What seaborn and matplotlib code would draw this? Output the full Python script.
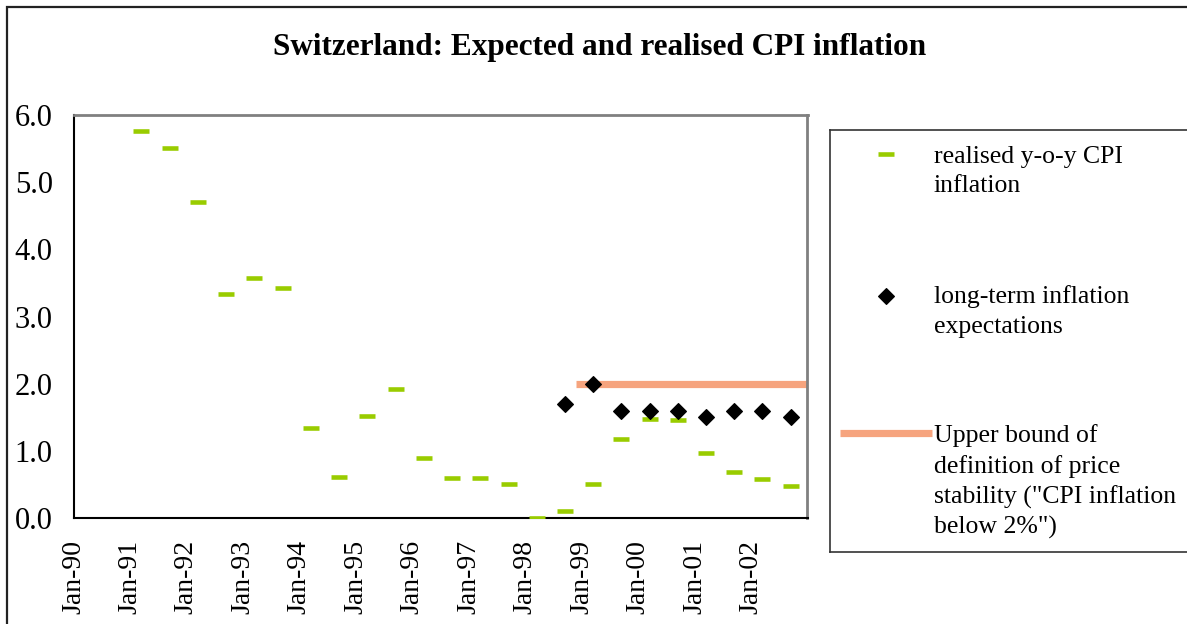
import numpy as np
import pandas as pd
import seaborn as sns
import matplotlib.pyplot as plt
from matplotlib.patches import Rectangle

# realised y-o-y CPI inflation (two readings a year)
cpi_dates = ['1991-03-15', '1991-09-15', '1992-03-15', '1992-09-15',
             '1993-03-15', '1993-09-15', '1994-03-15', '1994-09-15',
             '1995-03-15', '1995-09-15', '1996-03-15', '1996-09-15',
             '1997-03-15', '1997-09-15', '1998-03-15', '1998-09-15',
             '1999-03-15', '1999-09-15', '2000-03-15', '2000-09-15',
             '2001-03-15', '2001-09-15', '2002-03-15', '2002-09-15']
cpi_values = [5.76, 5.51, 4.70, 3.34, 3.57, 3.43, 1.34, 0.61, 1.52, 1.92,
              0.90, 0.60, 0.60, 0.50, 0.00, 0.10, 0.50, 1.18, 1.47, 1.46,
              0.97, 0.68, 0.58, 0.48]

# long-term inflation expectations
exp_dates = ['1998-09-15', '1999-03-15', '1999-09-15', '2000-03-15',
             '2000-09-15', '2001-03-15', '2001-09-15', '2002-03-15',
             '2002-09-15']
exp_values = [1.70, 2.00, 1.60, 1.60, 1.60, 1.50, 1.60, 1.60, 1.50]

# upper bound of the price stability definition
bound_dates = ['1998-11-25', '2003-01-01']
bound_values = [2.0, 2.0]

tick_years = list(range(1990, 2004))
tick_labels = ['Jan-90', 'Jan-91', 'Jan-92', 'Jan-93', 'Jan-94', 'Jan-95',
               'Jan-96', 'Jan-97', 'Jan-98', 'Jan-99', 'Jan-00', 'Jan-01',
               'Jan-02', '']
y_ticks = [0, 1, 2, 3, 4, 5, 6]

legend_labels = ['realised y-o-y CPI\ninflation',
                 'long-term inflation\nexpectations',
                 'Upper bound of\ndefinition of price\nstability ("CPI inflation\nbelow 2%")']

green = '#99CC00'
orange = '#F6A47E'

sns.set_style('white')
plt.rcParams['font.family'] = ['Liberation Serif', 'DejaVu Serif']
plt.rcParams['text.color'] = 'black'
plt.rcParams['xtick.color'] = 'black'
plt.rcParams['ytick.color'] = 'black'
plt.rcParams['axes.labelcolor'] = 'black'

cpi = pd.DataFrame({'date': pd.to_datetime(cpi_dates), 'value': cpi_values})
exp = pd.DataFrame({'date': pd.to_datetime(exp_dates), 'value': exp_values})
bound = pd.DataFrame({'date': pd.to_datetime(bound_dates), 'value': bound_values})

fig = plt.figure(figsize=(11.87, 6.24), dpi=100)
ax = fig.add_axes([73.5 / 1187, 106 / 624, 734 / 1187, 403 / 624])

dash_style = dict(marker='_', markersize=11.5, markeredgewidth=3.3,
                  markeredgecolor=green, color=green, linestyle='')
diamond_style = dict(marker='D', markersize=8.3, markeredgewidth=0.8,
                     markeredgecolor='black', color='black', linestyle='')
bound_style = dict(color=orange, linewidth=5.2, solid_capstyle='butt')

sns.lineplot(data=bound, x='date', y='value', ax=ax, zorder=2, **bound_style)
sns.lineplot(data=cpi, x='date', y='value', ax=ax, zorder=3, **dash_style)
sns.lineplot(data=exp, x='date', y='value', ax=ax, zorder=4, **diamond_style)

ax.set_xlim(pd.Timestamp('1990-01-01'), pd.Timestamp('2003-01-01'))
ax.set_ylim(0, 6)
ax.set_xticks([pd.Timestamp(f'{y}-01-01') for y in tick_years])
ax.set_xticklabels(tick_labels, rotation=90, fontsize=20)
ax.set_yticks(y_ticks)
ax.set_yticklabels([f'{v:.1f}' for v in y_ticks], fontsize=22)
ax.set_xlabel('')
ax.set_ylabel('')
ax.tick_params(axis='both', direction='out', length=7, width=1.2, color='black')
ax.tick_params(axis='y', pad=8)
ax.tick_params(axis='x', pad=9)
ax.grid(False)
for side in ['left', 'bottom']:
    ax.spines[side].set_color('black')
    ax.spines[side].set_linewidth(1.5)
for side in ['top', 'right']:
    ax.spines[side].set_color('#808080')
    ax.spines[side].set_linewidth(2)

fig.text(600 / 1187, 1 - 47 / 624, 'Switzerland: Expected and realised CPI inflation',
         ha='center', va='center', fontsize=22.5, fontweight='bold')

# outer chart frame (cut off at right and bottom)
fig.patches.append(Rectangle((7 / 1187, -0.2), 1.2, 1.2 - 7 / 624,
                             transform=fig.transFigure, fill=False,
                             edgecolor='#222222', linewidth=1.6))

# legend box, partly outside the picture on the right
lax = fig.add_axes([830 / 1187, 72 / 624, 400 / 1187, 422 / 624])
lax.set_xlim(830, 1230)
lax.set_ylim(552, 130)
lax.set_xticks([])
lax.set_yticks([])
for side in lax.spines:
    lax.spines[side].set_color('#333333')
    lax.spines[side].set_linewidth(1.2)
lax.plot([886], [154], **dash_style)
lax.plot([886], [296], **diamond_style)
lax.plot([840, 932], [433, 433], **bound_style)
for ytxt, lab in zip([171.5, 311.5, 482], legend_labels):
    lax.text(934, ytxt, lab, ha='left', va='center', fontsize=18.5,
             linespacing=1.42)

fig.savefig('out.png', dpi=100)
